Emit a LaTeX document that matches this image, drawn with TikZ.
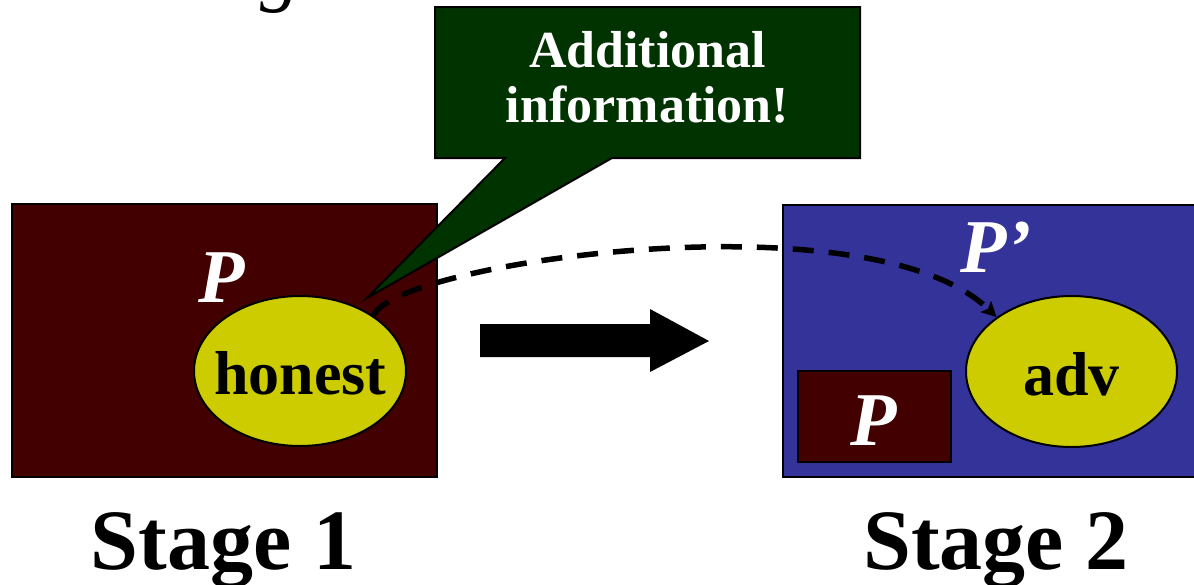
\documentclass[tikz,border=0pt]{standalone}
\usepackage{fontspec}
\setmainfont{Liberation Serif}
\usetikzlibrary{arrows.meta,shapes.geometric}
\definecolor{maroonfill}{HTML}{420000}
\definecolor{bluefill}{HTML}{333399}
\definecolor{yellowfill}{HTML}{CCCC00}
\definecolor{greenfill}{HTML}{003300}
\tikzset{
  stagebox/.style={draw=black, line width=2pt, rectangle, inner sep=0pt},
  party/.style={draw=black, line width=2pt, ellipse, fill=yellowfill, inner sep=0pt},
  partylabel/.style={anchor=base, inner sep=0pt, font=\fontsize{62}{62}\selectfont\bfseries, text=black},
  progname/.style={anchor=base, inner sep=0pt, font=\fontsize{76}{76}\selectfont\bfseries\itshape, text=white},
  stagelabel/.style={anchor=base, inner sep=0pt, font=\fontsize{86}{86}\selectfont\bfseries, text=black},
  calloutline/.style={anchor=base, inner sep=0pt, font=\fontsize{52}{52}\selectfont\bfseries, text=white},
  flow/.style={draw=black, line width=5.5pt, dash pattern=on 21pt off 15pt,
    -{Stealth[length=15pt,width=15pt,inset=3pt]}},
}
\begin{document}
\begin{tikzpicture}[x=1pt,y=-1pt]
\useasboundingbox (0,0) rectangle (1194,584);
\clip (0,0) rectangle (1194,584);

% tail of a heading above the picture
\node[anchor=base, inner sep=0pt, font=\fontsize{80}{80}\selectfont\itshape] (hd) at (280,-4) {g};

% Stage 1: the protocol with the honest party
\node[stagebox, fill=maroonfill, minimum width=425pt, minimum height=273pt] (s1) at (224.5,340.5) {};
\node[party, minimum width=212pt, minimum height=150pt] (hon) at (300,371) {};
\node[partylabel] (honlbl) at (300.5,394) {honest};
\node[progname] (p1) at (222,302) {P};

% speech bubble with its tail
\path[fill=greenfill, draw=black, line width=2pt, line join=miter]
  (435,7) -- (860,7) -- (860,158) -- (612,158) -- (367,298) -- (505,158) -- (435,158) -- cycle;
\node[calloutline] (c1) at (647.5,67) {Additional};
\node[calloutline] (c2) at (647.5,122) {information!};

% block arrow between the stages
\path[fill=black] (480,324) -- (650,324) -- (650,309) -- (709,341) -- (650,372) -- (650,357) -- (480,357) -- cycle;

% Stage 2: the composed protocol with the adversary
\node[stagebox, fill=bluefill, minimum width=460pt, minimum height=272pt] (s2) at (1013,341) {};
\node[stagebox, fill=maroonfill, minimum width=153pt, minimum height=91pt] (inner) at (874.5,416.5) {};
\node[progname] (p2) at (874,445) {P};
\node[progname] (p3) at (996,272) {P’};
\node[party, minimum width=211pt, minimum height=151pt] (adv) at (1071.5,371.5) {};
\node[partylabel] (advlbl) at (1071.5,395) {adv};

% information flowing from stage 1 to stage 2
\draw[flow] (hon.37) .. controls (395,262) and (870,195) .. (adv.144);

% stage captions
\node[stagelabel] (st1) at (223.5,569) {Stage 1};
\node[stagelabel] (st2) at (996,569) {Stage 2};
\end{tikzpicture}
\end{document}
